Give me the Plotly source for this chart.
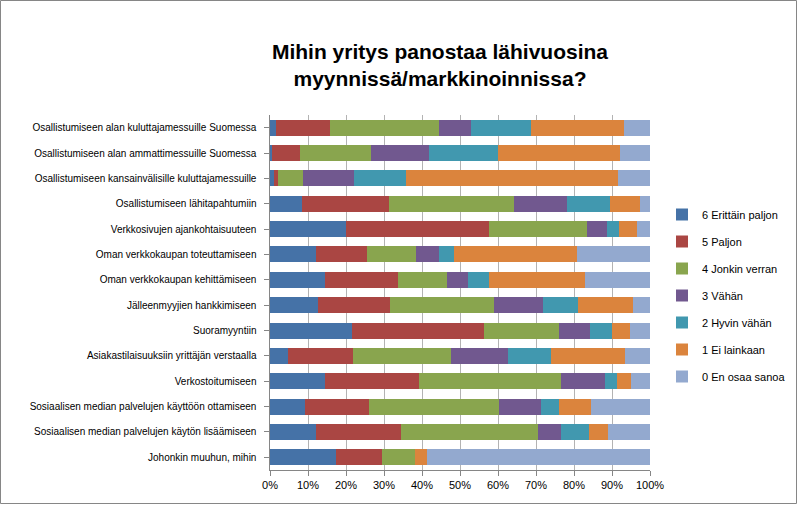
import plotly.graph_objects as go

categories = [
    "Osallistumiseen alan kuluttajamessuille Suomessa",
    "Osallistumiseen alan ammattimessuille Suomessa",
    "Osallistumiseen kansainvälisille kuluttajamessuille",
    "Osallistumiseen lähitapahtumiin",
    "Verkkosivujen ajankohtaisuuteen",
    "Oman verkkokaupan toteuttamiseen",
    "Oman verkkokaupan kehittämiseen",
    "Jälleenmyyjien hankkimiseen",
    "Suoramyyntiin",
    "Asiakastilaisuuksiin yrittäjän verstaalla",
    "Verkostoitumiseen",
    "Sosiaalisen median palvelujen käyttöön ottamiseen",
    "Sosiaalisen median palvelujen käytön lisäämiseen",
    "Johonkin muuhun, mihin",
]

series_names = [
    "6 Erittäin paljon",
    "5 Paljon",
    "4 Jonkin verran",
    "3 Vähän",
    "2 Hyvin vähän",
    "1 Ei lainkaan",
    "0 En osaa sanoa",
]

v6 = [1.7, 0.6, 1.1, 8.5, 19.9, 12.2, 14.5, 12.5, 21.7, 4.8, 14.6, 9.2, 12.2, 17.5]
v5 = [14.2, 7.4, 1.1, 22.9, 37.7, 13.2, 19.3, 19.0, 34.5, 17.1, 24.5, 16.7, 22.4, 11.9]
v4 = [28.5, 18.5, 6.6, 32.7, 25.8, 12.9, 12.9, 27.4, 19.8, 25.8, 37.4, 34.4, 35.9, 8.7]
v3 = [8.4, 15.3, 13.2, 14.0, 5.3, 6.1, 5.5, 12.9, 8.2, 14.8, 11.6, 10.9, 6.1, 0.0]
v2 = [15.8, 18.2, 13.7, 11.2, 3.2, 4.0, 5.3, 9.2, 5.8, 11.3, 3.2, 4.7, 7.4, 0.0]
v1 = [24.4, 32.2, 55.8, 7.9, 4.7, 32.4, 25.5, 14.5, 4.7, 19.5, 3.7, 8.4, 5.0, 3.2]
v0 = [6.9, 7.9, 8.5, 2.7, 3.4, 19.2, 17.0, 4.5, 5.3, 6.6, 5.0, 15.6, 11.1, 58.8]

series_values = [v6, v5, v4, v3, v2, v1, v0]
colors = ["#4572A7", "#AA4643", "#89A54E", "#71588F", "#4198AF", "#DB843D", "#93A9CF"]

tick_vals = [0, 10, 20, 30, 40, 50, 60, 70, 80, 90, 100]
tick_text = ["0%", "10%", "20%", "30%", "40%", "50%", "60%", "70%", "80%", "90%", "100%"]

FONT = "Liberation Sans"

fig = go.Figure()
for i, (name, vals, col) in enumerate(zip(series_names, series_values, colors)):
    fig.add_trace(go.Bar(
        y=categories, x=vals, name=name, orientation="h",
        marker=dict(color=col, line=dict(width=0)),
        legendgroup=f"g{i}",
    ))

W, H = 798, 505
L, R, T, B = 270, 148, 115, 35
pw, ph = W - L - R, H - T - B

fig.update_layout(
    width=W, height=H,
    barmode="stack", barnorm="percent", bargap=0.37,
    margin=dict(l=L, r=R, t=T, b=B, autoexpand=False),
    paper_bgcolor="white", plot_bgcolor="white",
    font=dict(family=FONT, size=11, color="#000000"),
    title=dict(
        text="<b>Mihin yritys panostaa lähivuosina<br>myynnissä/markkinoinnissa?</b>",
        x=440 / W, xref="container", xanchor="center",
        y=1 - 59 / H, yref="container", yanchor="middle",
        font=dict(family=FONT, size=21, color="#000000"),
    ),
    showlegend=True,
    legend=dict(
        x=(662 - L) / pw, xanchor="left",
        y=(H - B - 200) / ph, yanchor="top",
        traceorder="grouped", tracegroupgap=8,
        font=dict(family=FONT, size=11),
        bgcolor="rgba(0,0,0,0)", itemclick=False,
    ),
    xaxis=dict(
        range=[0, 100], tickvals=tick_vals, ticktext=tick_text,
        showgrid=True, gridcolor="#B3B3B3", gridwidth=1,
        showline=True, linecolor="#868686", linewidth=1,
        ticks="outside", ticklen=5, tickcolor="#868686",
        zeroline=False, tickfont=dict(size=11), fixedrange=True,
    ),
    yaxis=dict(
        autorange="reversed", showline=True, linecolor="#868686", linewidth=1,
        ticks="outside", ticklen=5, tickcolor="#868686",
        tickfont=dict(size=10), ticksuffix="  ", fixedrange=True,
    ),
    shapes=[dict(
        type="rect", xref="paper", yref="paper",
        x0=(0.5 - L) / pw, x1=(W - 1.5 - L) / pw,
        y0=(H - B - (H - 1.5)) / ph, y1=(H - B - 0.5) / ph,
        line=dict(color="#868686", width=1), fillcolor="rgba(0,0,0,0)",
        layer="above",
    )],
)

fig.write_html(
    "out.html",
    config={"displayModeBar": False},
    post_script="document.body.style.margin='0';document.body.style.overflow='hidden';",
)
